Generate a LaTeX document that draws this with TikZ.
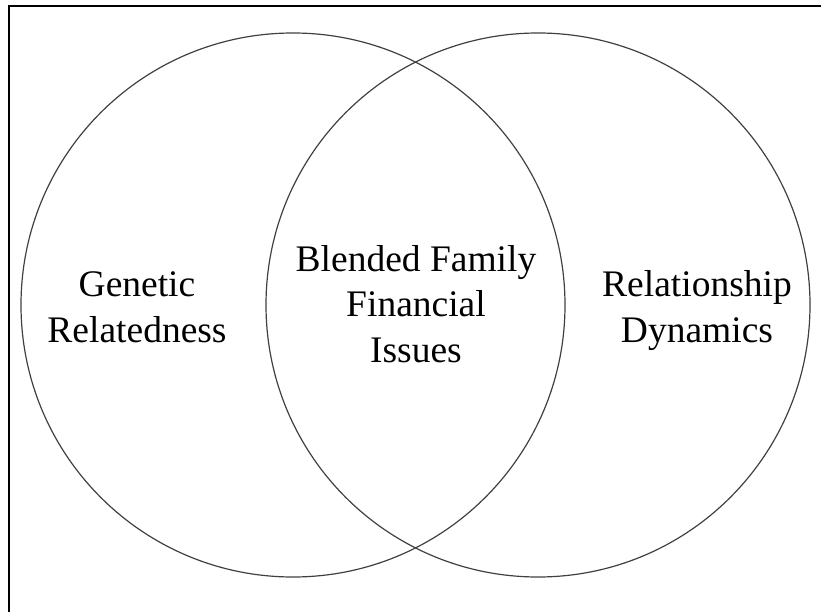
\documentclass[tikz,border=0pt]{standalone}
\usepackage{fontspec}
\setmainfont{Liberation Serif}
\usetikzlibrary{positioning}

\begin{document}
\begin{tikzpicture}[x=1pt,y=-1pt,
    setring/.style={draw=black!75, line width=1.2pt, circle, minimum size=544pt, inner sep=0pt},
    setlabel/.style={font=\fontsize{37.5}{45.5}\selectfont, align=center, anchor=base}]
  \useasboundingbox (0,0) rectangle (821,612);
  % frame, only left and top edges show
  \draw[line width=2.6pt] (9,612) -- (9,6) -- (821,6);
  \node[setring] (genetic) at (293,305) {};
  \node[setring] (relation) at (538,305) {};
  \node[setlabel] (geneticText) at (137,342) {Genetic\\Relatedness};
  \node[setlabel] (blendedText) at (416,362) {Blended Family\\Financial\\Issues};
  \node[setlabel] (relationText) at (697,342) {Relationship\\Dynamics};
\end{tikzpicture}
\end{document}
